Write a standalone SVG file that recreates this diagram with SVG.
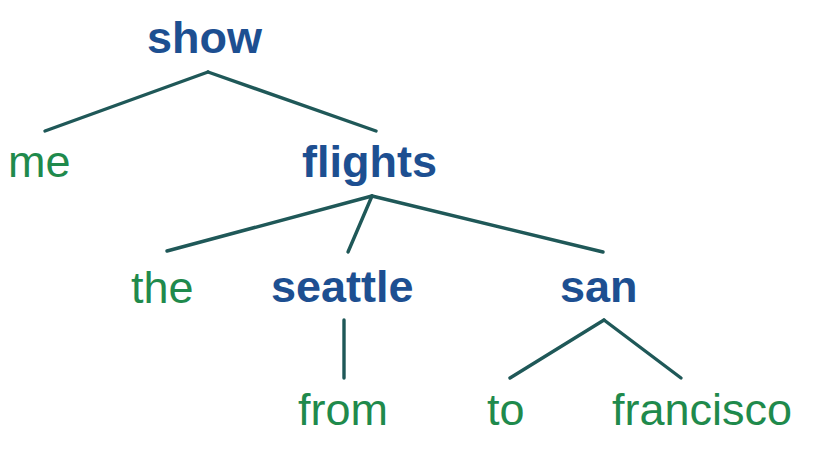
<svg xmlns="http://www.w3.org/2000/svg" width="820" height="476" viewBox="0 0 820 476">
<style>
.head{font-family:"Liberation Sans",Arial,sans-serif;font-weight:bold;font-size:45px;fill:#1d4f91}
.leaf{font-family:"Liberation Sans",Arial,sans-serif;font-size:45px;fill:#1f8a4c}
.edge{stroke:#1f5858;stroke-width:3.4;fill:none;stroke-linecap:round}
</style>
<rect width="820" height="476" fill="#ffffff"/>
<g id="connectors">
<line class="edge" x1="208" y1="72" x2="45" y2="131"/>
<line class="edge" x1="208" y1="72" x2="376" y2="131"/>
<line class="edge" x1="372" y1="196" x2="167" y2="251"/>
<line class="edge" x1="372" y1="196" x2="348" y2="252"/>
<line class="edge" x1="372" y1="196" x2="603" y2="252"/>
<line class="edge" x1="344" y1="320" x2="344" y2="378"/>
<line class="edge" x1="604" y1="320" x2="510" y2="378"/>
<line class="edge" x1="604" y1="320" x2="681" y2="378"/>
</g>
<g id="show"><text class="head" x="147" y="53">show</text></g>
<g id="me"><text class="leaf" x="8" y="177">me</text></g>
<g id="flights"><text class="head" x="302" y="177">flights</text></g>
<g id="the"><text class="leaf" x="131" y="303">the</text></g>
<g id="seattle"><text class="head" x="271" y="302">seattle</text></g>
<g id="san"><text class="head" x="560" y="302">san</text></g>
<g id="from"><text class="leaf" x="298" y="425">from</text></g>
<g id="to"><text class="leaf" x="487" y="425">to</text></g>
<g id="francisco"><text class="leaf" x="612" y="425">francisco</text></g>
</svg>
